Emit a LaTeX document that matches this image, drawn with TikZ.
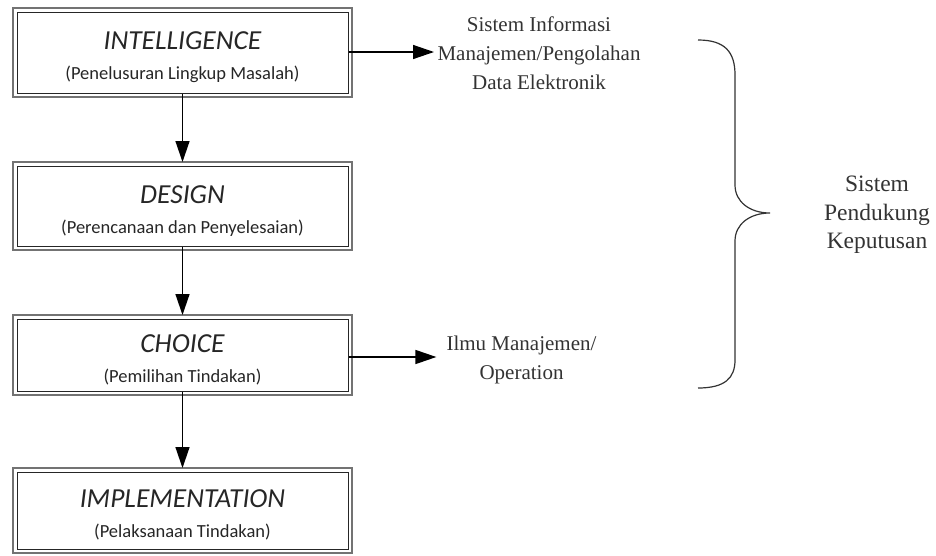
\documentclass[tikz,border=0pt]{standalone}
\usepackage{fontspec}
\setmainfont{Liberation Serif}
\newfontfamily\boxfont{Carlito}
\usetikzlibrary{arrows.meta}

\tikzset{
  stage/.style={draw=black!85, line width=1pt, minimum width=331pt, align=center,
    inner sep=0pt, text=black!85, font=\boxfont\fontsize{18.5}{30}\selectfont},
  frame/.style={draw=black!55, line width=2.4pt},
  flow/.style={-{Triangle[length=21pt,width=14pt]}, line width=1.4pt, draw=black},
  note/.style={align=center, text=black!80, font=\fontsize{21}{29}\selectfont},
  brace/.style={draw=black!80, line width=1.2pt},
}

\newcommand{\stagetext}[2]{{\fontsize{27.5}{30}\selectfont\itshape\rule{0pt}{27pt}#1}\\#2}

\begin{document}
\begin{tikzpicture}[x=1pt,y=-1pt]
  \useasboundingbox (0,0) rectangle (936,555);

  % stages
  \node[stage, minimum height=81pt] (intel) at (182.5,52.5)
    {\stagetext{INTELLIGENCE}{(Penelusuran Lingkup Masalah)}};
  \node[stage, minimum height=80pt] (design) at (182.5,206)
    {\stagetext{DESIGN}{(Perencanaan dan Penyelesaian)}};
  \node[stage, minimum height=72pt] (choice) at (182.5,355)
    {\stagetext{CHOICE}{(Pemilihan Tindakan)}};
  \node[stage, minimum height=77pt] (impl) at (182.5,510.5)
    {\stagetext{IMPLEMENTATION}{(Pelaksanaan Tindakan)}};

  \foreach \n in {intel,design,choice,impl}
    \draw[frame] ([shift={(-3.5pt,3.5pt)}]\n.north west) rectangle ([shift={(3.5pt,-3.5pt)}]\n.south east);

  \draw[flow, shorten >=3.5pt] (intel) -- (design);
  \draw[flow, shorten >=3.5pt] (design) -- (choice);
  \draw[flow, shorten >=3.5pt] (choice) -- (impl);

  % supporting systems
  \node[note] (sim) at (539,53.5) {Sistem Informasi\\Manajemen/Pengolahan\\Data Elektronik};
  \node[note, inner xsep=10pt] (ilmu) at (521.5,360) {Ilmu Manajemen/\\Operation};

  \draw[flow] (intel.east |- 0,52) -- (sim.west |- 0,52);
  \draw[flow] (choice.east |- 0,357) -- (ilmu.west |- 0,357);

  % brace
  \coordinate (btop) at (698,40);
  \coordinate (btip) at (770,213);
  \coordinate (bbot) at (698,388);
  \draw[brace] (btop) .. controls (725,40) and (735,52) .. (735,75)
    -- (735,185) .. controls (735,202) and (750,213) .. (btip)
    .. controls (750,213) and (735,224) .. (735,241)
    -- (735,360) .. controls (735,378) and (725,388) .. (bbot);

  \node[note, font=\fontsize{23.5}{28.5}\selectfont] (spk) at (877,215) {Sistem\\Pendukung\\Keputusan};
\end{tikzpicture}
\end{document}
